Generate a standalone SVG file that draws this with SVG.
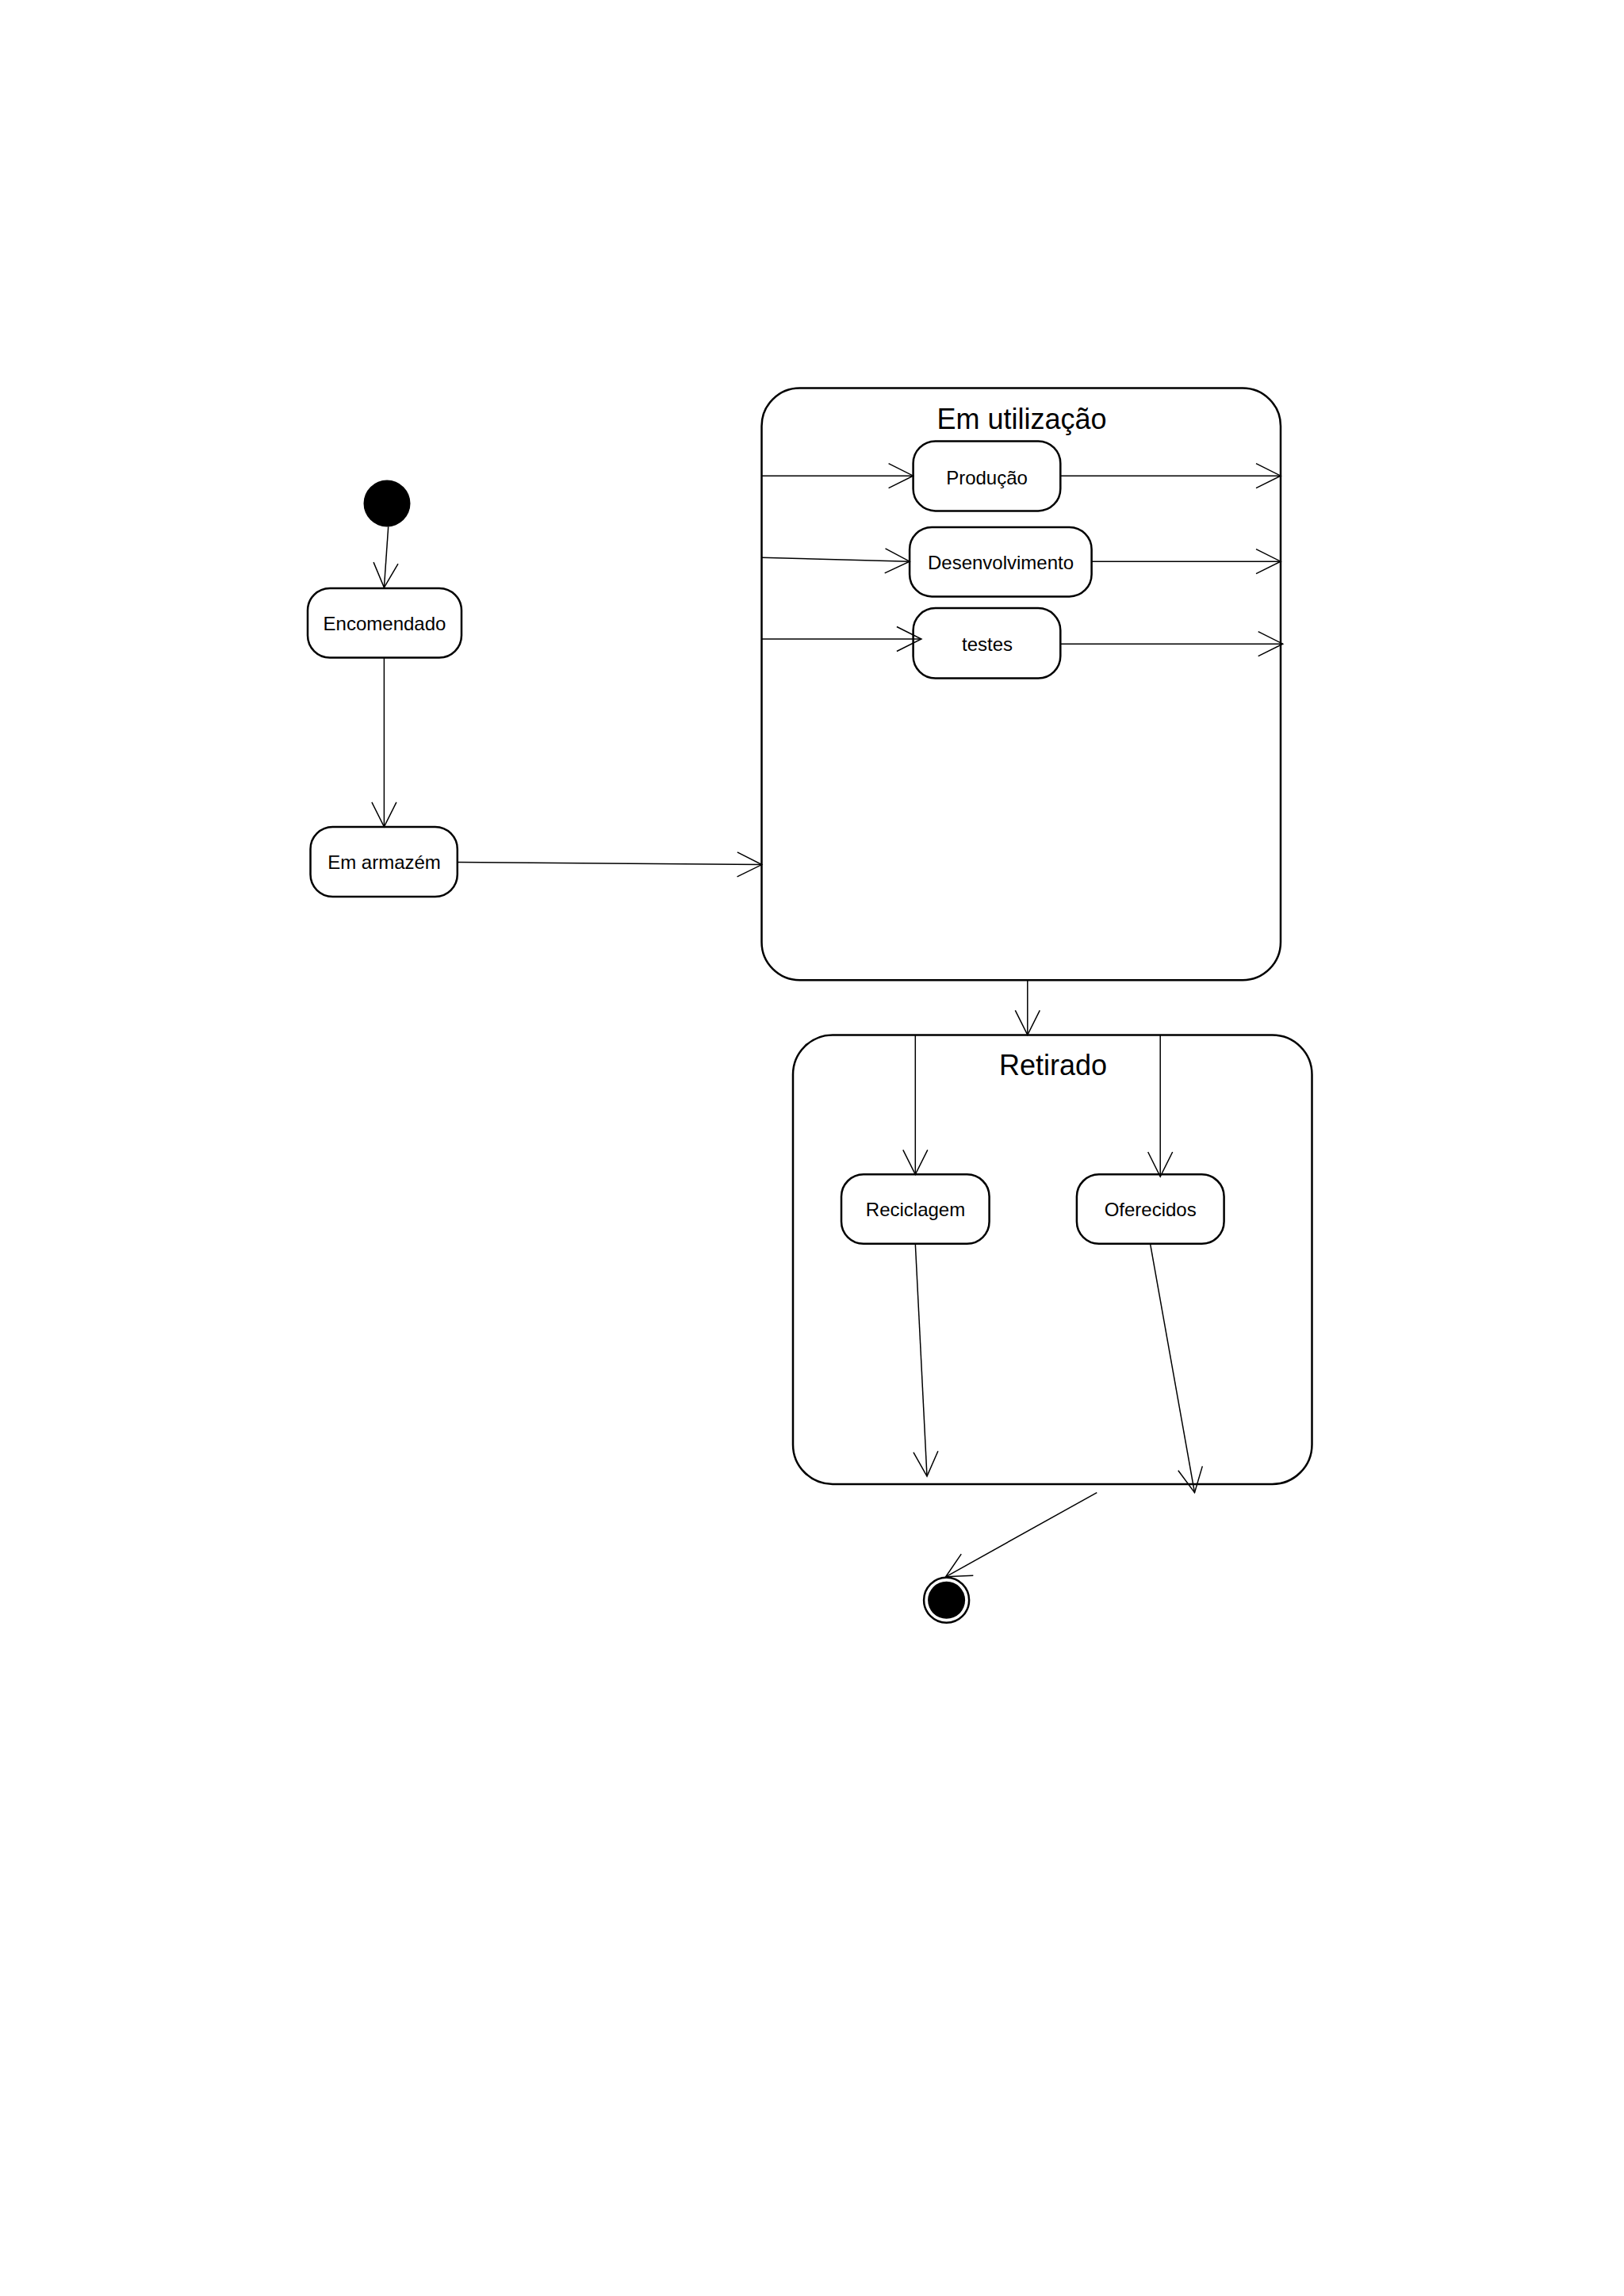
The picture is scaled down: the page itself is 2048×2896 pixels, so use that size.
<svg xmlns="http://www.w3.org/2000/svg" width="2048" height="2896" viewBox="0 0 2048 2896">
<style>
.state{fill:#fff;stroke:#000;stroke-width:2.5}
.comp{fill:#fff;stroke:#000;stroke-width:2.5}
.lbl{font-family:"Liberation Sans",Arial,sans-serif;font-size:24px;fill:#000;text-anchor:middle}
.title{font-family:"Liberation Sans",Arial,sans-serif;font-size:36px;fill:#000;text-anchor:middle}
.conn{fill:none;stroke:#000;stroke-width:1.5;marker-end:url(#open)}
</style>
<defs>
<marker id="open" markerUnits="userSpaceOnUse" viewBox="0 0 34 34" markerWidth="34" markerHeight="34" refX="32" refY="17" orient="auto">
<path d="M1,1.5 L32,17 L1,32.5" fill="none" stroke="#000" stroke-width="1.5"/>
</marker>
</defs>
<rect x="0" y="0" width="2048" height="2896" fill="#fff"/>

<g id="em-utilizacao">
<rect class="comp" x="960.5" y="489.5" width="654.5" height="746.7" rx="48" ry="48"/>
<text class="title" x="1288.6" y="540.8">Em utilização</text>
</g>
<g id="retirado">
<rect class="comp" x="1000" y="1305.4" width="654.5" height="566.5" rx="50" ry="50"/>
<text class="title" x="1328" y="1356.3">Retirado</text>
</g>

<g id="inicio">
<circle cx="488" cy="635" r="29.5" fill="#000"/>
</g>
<g id="encomendado">
<rect class="state" x="388" y="742" width="194" height="87.5" rx="28" ry="28"/>
<text class="lbl" x="485" y="795">Encomendado</text>
</g>
<g id="em-armazem">
<rect class="state" x="391.5" y="1043" width="185.3" height="88" rx="28" ry="28"/>
<text class="lbl" x="484.5" y="1096">Em armazém</text>
</g>
<g id="producao">
<rect class="state" x="1151.6" y="556.4" width="185.7" height="88" rx="28" ry="28"/>
<text class="lbl" x="1244.5" y="610.9">Produção</text>
</g>
<g id="desenvolvimento">
<rect class="state" x="1147.1" y="664.9" width="229.5" height="87.5" rx="28" ry="28"/>
<text class="lbl" x="1262" y="717.6">Desenvolvimento</text>
</g>
<g id="testes">
<rect class="state" x="1151.6" y="767.1" width="185.7" height="88.4" rx="28" ry="28"/>
<text class="lbl" x="1245" y="820.7">testes</text>
</g>
<g id="reciclagem">
<rect class="state" x="1061" y="1481.3" width="186.6" height="87.5" rx="28" ry="28"/>
<text class="lbl" x="1154.5" y="1533.9">Reciclagem</text>
</g>
<g id="oferecidos">
<rect class="state" x="1357.9" y="1481.3" width="185.7" height="87.5" rx="28" ry="28"/>
<text class="lbl" x="1450.7" y="1533.9">Oferecidos</text>
</g>
<g id="fim">
<circle cx="1193.6" cy="2018.3" r="28.5" fill="#fff" stroke="#000" stroke-width="2.5"/>
<circle cx="1193.6" cy="2018.3" r="23.5" fill="#000"/>
</g>

<g id="connectors">
<line class="conn" x1="489.7" y1="664.3" x2="484.4" y2="741.1"/>
<line class="conn" x1="484.4" y1="829.5" x2="484.4" y2="1042.9"/>
<line class="conn" x1="576.8" y1="1087.5" x2="960.7" y2="1090.6"/>
<line class="conn" x1="960.5" y1="600.2" x2="1151.6" y2="600.2"/>
<line class="conn" x1="1337.3" y1="600.2" x2="1615" y2="600.2"/>
<line class="conn" x1="960.5" y1="703.3" x2="1147.1" y2="708.2"/>
<line class="conn" x1="1376.6" y1="708.2" x2="1615" y2="708.2"/>
<line class="conn" x1="960.5" y1="806" x2="1161.9" y2="806"/>
<line class="conn" x1="1337.3" y1="812.2" x2="1617.7" y2="812.2"/>
<line class="conn" x1="1295.8" y1="1236.2" x2="1295.8" y2="1305.4"/>
<line class="conn" x1="1154.3" y1="1305.4" x2="1154.3" y2="1481.3"/>
<line class="conn" x1="1463.2" y1="1305.4" x2="1463.2" y2="1484"/>
<line class="conn" x1="1154.3" y1="1568.8" x2="1169" y2="1862"/>
<line class="conn" x1="1450.7" y1="1569.6" x2="1506.5" y2="1882.6"/>
<line class="conn" x1="1383.3" y1="1882.6" x2="1192.7" y2="1988.8"/>
</g>
</svg>
